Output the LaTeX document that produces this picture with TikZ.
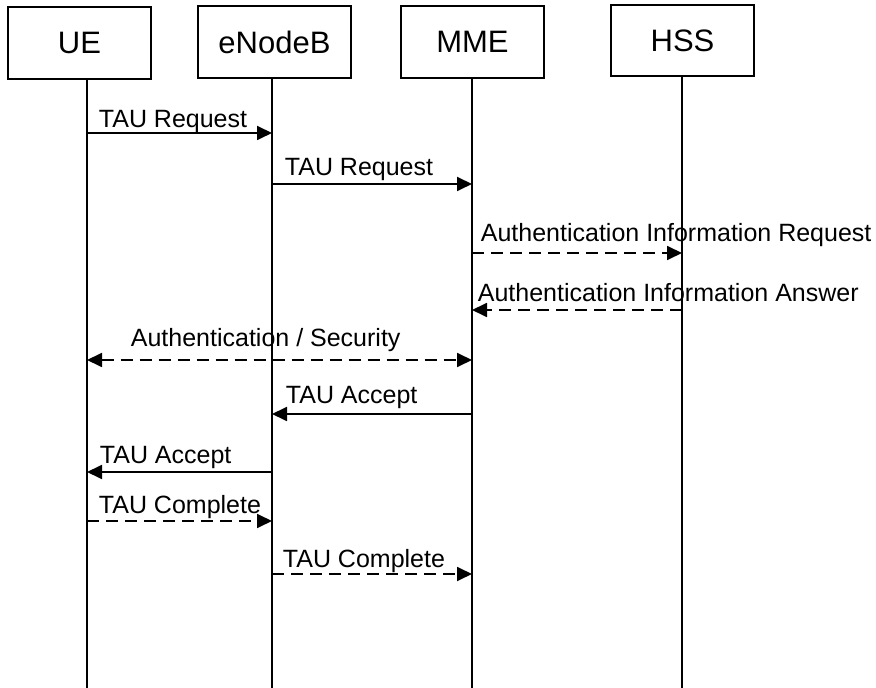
\documentclass[tikz,border=0pt]{standalone}
\usepackage{fontspec}
\setmainfont{Liberation Sans}
\usetikzlibrary{arrows.meta}

\begin{document}
\begin{tikzpicture}[
  x=0.5pt, y=-0.5pt,
  entity/.style={draw, line width=1.2pt, minimum height=36pt, inner sep=0pt, font=\fontsize{15.5}{18}\selectfont},
  lifeline/.style={line width=0.9pt},
  msg/.style={->, line width=0.9pt},
  async/.style={msg, dash pattern=on 6pt off 3.5pt},
  lbl/.style={anchor=base west, inner sep=0pt, font=\fontsize{12.5}{15}\selectfont},
  >={Triangle[length=7.5pt, width=7pt]}
]
  \useasboundingbox (0,0) rectangle (876,688);

  % Entities
  \node[entity, minimum width=71.5pt] (ue)  at (79.5,43)  {UE};
  \node[entity, minimum width=76.5pt] (enb) at (274.5,42) {eNodeB};
  \node[entity, minimum width=71.5pt] (mme) at (472.5,42) {MME};
  \node[entity, minimum width=71.5pt, minimum height=35.5pt] (hss) at (682.5,40.5) {HSS};

  % Lifelines
  \coordinate (ue-end)  at (87,688);
  \coordinate (enb-end) at (272,688);
  \coordinate (mme-end) at (472,688);
  \coordinate (hss-end) at (682,688);
  \draw[lifeline] (ue.south -| ue-end) -- (ue-end);
  \draw[lifeline] (enb.south -| enb-end) -- (enb-end);
  \draw[lifeline] (mme.south -| mme-end) -- (mme-end);
  \draw[lifeline] (hss.south -| hss-end) -- (hss-end);

  % Message rows
  \coordinate (m1) at (0,133);
  \coordinate (m2) at (0,184);
  \coordinate (m3) at (0,253);
  \coordinate (m4) at (0,310);
  \coordinate (m5) at (0,360);
  \coordinate (m6) at (0,414);
  \coordinate (m7) at (0,472);
  \coordinate (m8) at (0,521);
  \coordinate (m9) at (0,574);

  % Messages
  \draw[msg] (ue-end |- m1) -- (enb-end |- m1)
    node[lbl, pos=0, xshift=5.5pt, yshift=2.5pt] {TAU Request};
  \draw[msg] (enb-end |- m2) -- (mme-end |- m2)
    node[lbl, pos=0, xshift=6pt, yshift=4pt] {TAU Request};
  \draw[async] (mme-end |- m3) -- (hss-end |- m3)
    node[lbl, pos=0, xshift=4pt, yshift=5.5pt] {Authentication Information Request};
  \draw[async] (hss-end |- m4) -- (mme-end |- m4)
    node[lbl, pos=1, xshift=2.5pt, yshift=4pt] {Authentication Information Answer};
  \draw[async, <->] (ue-end |- m5) -- (mme-end |- m5)
    node[lbl, pos=0, xshift=21.5pt, yshift=6.5pt] {Authentication / Security};
  \draw[msg] (mme-end |- m6) -- (enb-end |- m6)
    node[lbl, pos=1, xshift=6.5pt, yshift=5pt] {TAU Accept};
  \draw[msg] (enb-end |- m7) -- (ue-end |- m7)
    node[lbl, pos=1, xshift=6pt, yshift=4pt] {TAU Accept};
  \draw[async] (ue-end |- m8) -- (enb-end |- m8)
    node[lbl, pos=0, xshift=5.5pt, yshift=4pt] {TAU Complete};
  \draw[async] (enb-end |- m9) -- (mme-end |- m9)
    node[lbl, pos=0, xshift=5pt, yshift=3.5pt] {TAU Complete};
\end{tikzpicture}
\end{document}
